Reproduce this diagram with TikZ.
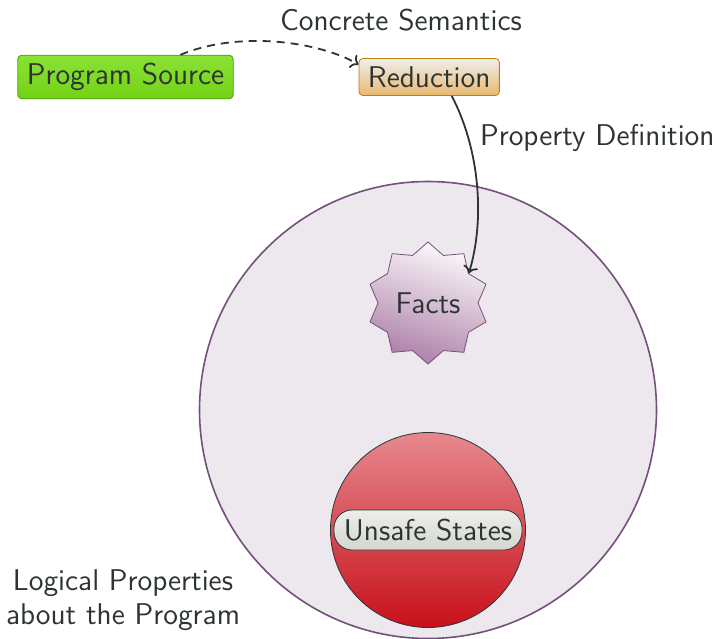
\documentclass[tikz,border=0pt]{standalone}
\usepackage{fontspec}
\usetikzlibrary{shapes.geometric, arrows.meta, positioning}
\definecolor{txtgray}{HTML}{2E3436}
\definecolor{greenlight}{HTML}{8AE234}
\definecolor{greendark}{HTML}{73D216}
\definecolor{greenline}{HTML}{4E9A06}
\definecolor{chocline}{HTML}{C17D11}
\definecolor{choclight}{HTML}{E9B96E}
\definecolor{plumline}{HTML}{75507B}
\definecolor{plumlight}{HTML}{AD7FA8}
\definecolor{redlight}{HTML}{E6898E}
\definecolor{reddark}{HTML}{C8101A}
\definecolor{alulight}{HTML}{EEEEEC}
\definecolor{aludark}{HTML}{D3D7CF}
\tikzstyle{arrow} = [line width=0.9pt, ->, draw=txtgray]

\begin{document}
\begin{tikzpicture}[
  x=0.5pt, y=-0.5pt,
  every node/.style={font=\sffamily\fontsize{15}{17}\selectfont, text=txtgray},
  box/.style={draw, rectangle, rounded corners=2pt, inner xsep=4.5pt, inner ysep=4pt},
  source/.style={box, draw=greenline, top color=greenlight, bottom color=greendark},
  reduce/.style={box, draw=chocline, top color=alulight, bottom color=choclight},
  propzone/.style={draw=plumline, circle, line width=0.8pt, fill=plumline!13, minimum size=228.5pt},
  fact/.style={draw=plumline, star, star points=10, star point ratio=0.82, rotate=18,
    inner sep=0pt, minimum size=50pt, top color=white!95!plumlight, bottom color=plumlight,
    shading angle=-18},
  unsafe/.style={draw=txtgray, circle, minimum size=97.5pt, top color=redlight, bottom color=reddark},
  tag/.style={draw=txtgray, rectangle, rounded corners=9pt, minimum width=94pt, minimum height=20pt,
    top color=alulight, bottom color=aludark}
]
\useasboundingbox (0,0) rectangle (717,638);

% Nodes
\node[source] (src) at (125.5,77) {Program Source};
\node[reduce, right=62.5pt of src] (red) {Reduction};

\node[propzone] (props) at (428,410) {};
\node[fact] (facts) at (428,303) {\rotatebox{-18}{Facts}};
\node[unsafe] (bad) at (428,530) {};
\node[tag] (badtag) at (bad.center) {Unsafe States};

% Labels
\node (concrete) at (401,20) {Concrete Semantics};
\node[anchor=west] (propdef) at (473,138) {Property Definition};
\node[align=center] (logic) at (123,600) {Logical Properties\\about the Program};

% Arrows
\draw[arrow, dash pattern=on 4pt off 3pt] (src.22) .. controls (240,30) and (320,42) .. (red.170);
\draw[arrow] (red.-40) .. controls (480,150) and (485,220) .. (facts.outer point 9);
\end{tikzpicture}
\end{document}
